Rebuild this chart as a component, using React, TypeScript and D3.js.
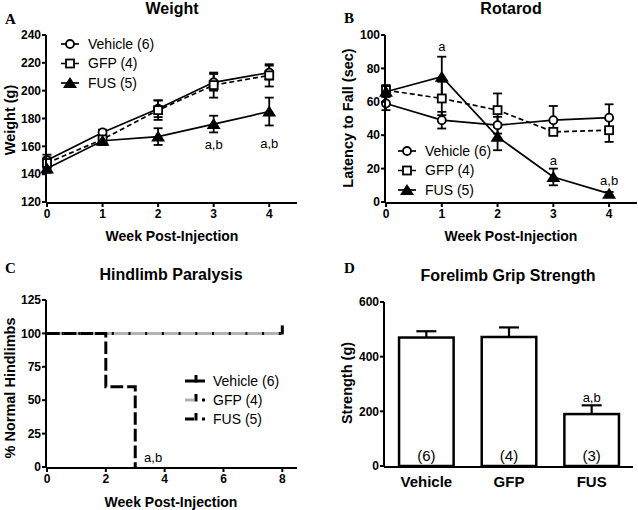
import React, { useEffect } from 'react';
import * as d3 from 'd3';

// ---- data ----
const weeks = [0, 1, 2, 3, 4];
const groups = ['Vehicle (6)', 'GFP (4)', 'FUS (5)'];

const weightMean = [
  [150, 170, 187, 206, 213],
  [148, 165, 186, 204, 211],
  [144, 164, 167, 176, 185],
];
const weightErr = [
  [4, 2, 6, 6, 5],
  [4, 4, 7, 9, 8],
  [3, 3, 6, 6, 10],
];
const weightTicks = [120, 140, 160, 180, 200, 220, 240];

const rotarodMean = [
  [59, 49, 46, 49, 50.5],
  [67, 62, 55, 42, 43],
  [66, 75, 39, 15, 5],
];
const rotarodErr = [
  [4, 5, 5, 8.5, 8],
  [3, 10, 10, 2, 7],
  [3, 12, 8, 5, 1],
];
const rotarodTicks = [0, 20, 40, 60, 80, 100];

const paraWeeks = [
  [0, 8],
  [0, 8],
  [0, 2, 3],
];
const paraValues = [
  [100, 100],
  [100, 100],
  [100, 60, 0],
];
const paraXTicks = [0, 2, 4, 6, 8];
const paraYTicks = [0, 25, 50, 75, 100, 125];

const gripCats = ['Vehicle', 'GFP', 'FUS'];
const gripMean = [470, 472, 190];
const gripErr = [23, 35, 32];
const gripN = ['(6)', '(4)', '(3)'];
const gripTicks = [0, 200, 400, 600];

const weightNotes = [
  { week: 3, value: 161, text: 'a,b' },
  { week: 4, value: 162, text: 'a,b' },
];
const rotarodNotes = [
  { week: 1, value: 93, text: 'a' },
  { week: 3, value: 25, text: 'a' },
  { week: 4, value: 13, text: 'a,b' },
];

const SANS = '"Liberation Sans", Arial, Helvetica, sans-serif';
const SERIF = '"Liberation Serif", "Times New Roman", serif';

function Marker({ kind, x, y }: { kind: number; x: number; y: number }) {
  if (kind === 0) return <circle cx={x} cy={y} r={4} fill="#fff" stroke="#000" strokeWidth={1.8} />;
  if (kind === 1) return <rect x={x - 4} y={y - 4} width={8} height={8} fill="#fff" stroke="#000" strokeWidth={1.8} />;
  return <path d={`M${x},${y - 6}L${x + 7},${y + 5}L${x - 7},${y + 5}Z`} fill="#000" />;
}

function LinePanel(props: {
  left: number; right: number; top: number; bottom: number;
  xDomain: [number, number]; yDomain: [number, number]; yTicks: number[];
  means: number[][]; errs: number[][]; notes: { week: number; value: number; text: string }[];
  legendX: number; legendY: number;
}) {
  const { left, right, top, bottom, means, errs } = props;
  const x = d3.scaleLinear().domain(props.xDomain).range([left, right]);
  const y = d3.scaleLinear().domain(props.yDomain).range([bottom, top]);
  const dashes = [undefined, '5,3', undefined];
  return (
    <g>
      {means.map((m, g) => {
        const line = d3.line<number>().x((_, i) => x(weeks[i])).y(d => y(d));
        return <path key={'l' + g} d={line(m) || ''} fill="none" stroke="#000" strokeWidth={1.7} strokeDasharray={dashes[g]} />;
      })}
      {means.map((m, g) =>
        m.map((v, i) => {
          const cx = x(weeks[i]);
          const y1 = y(v + errs[g][i]);
          const y2 = y(v - errs[g][i]);
          return (
            <g key={'e' + g + i} stroke="#000" strokeWidth={1.8}>
              <line x1={cx} x2={cx} y1={y1} y2={y2} />
              <line x1={cx - 4.5} x2={cx + 4.5} y1={y1} y2={y1} />
              <line x1={cx - 4.5} x2={cx + 4.5} y1={y2} y2={y2} />
            </g>
          );
        })
      )}
      {means.map((m, g) => m.map((v, i) => <Marker key={'m' + g + i} kind={g} x={x(weeks[i])} y={y(v)} />))}
      {props.notes.map((n, i) => (
        <text key={'n' + i} x={x(n.week)} y={y(n.value)} dy="0.35em" textAnchor="middle" fontFamily={SANS} fontSize={13}>{n.text}</text>
      ))}
      {/* axes */}
      <line x1={left - 1} x2={left - 1} y1={top} y2={bottom + 1} stroke="#000" strokeWidth={2} />
      <line x1={left - 1} x2={right} y1={bottom + 1} y2={bottom + 1} stroke="#000" strokeWidth={2} />
      {props.yTicks.map(t => (
        <g key={'yt' + t}>
          <line x1={left - 5} x2={left - 1} y1={y(t)} y2={y(t)} stroke="#000" strokeWidth={2} />
          <text x={left - 6} y={y(t)} dy="0.35em" textAnchor="end" fontFamily={SANS} fontWeight="bold" fontSize={12}>{t}</text>
        </g>
      ))}
      {weeks.map(t => (
        <g key={'xt' + t}>
          <line x1={x(t)} x2={x(t)} y1={bottom + 1} y2={bottom + 5} stroke="#000" strokeWidth={2} />
          <text x={x(t)} y={bottom + 16} textAnchor="middle" fontFamily={SANS} fontWeight="bold" fontSize={12}>{t}</text>
        </g>
      ))}
      {/* legend */}
      {groups.map((name, g) => {
        const ly = props.legendY + g * 19.5;
        return (
          <g key={'lg' + g}>
            <line x1={props.legendX - 9} x2={props.legendX + 9} y1={ly} y2={ly} stroke="#000" strokeWidth={1.7} strokeDasharray={g === 1 ? '4,3' : undefined} />
            <Marker kind={g} x={props.legendX} y={ly} />
            <text x={props.legendX + 18} y={ly} dy="0.35em" fontFamily={SANS} fontSize={14}>{name}</text>
          </g>
        );
      })}
    </g>
  );
}

function ParalysisPanel() {
  const left = 47, right = 297, top = 300, bottom = 467;
  const x = d3.scaleLinear().domain([0, 8.5]).range([left, right]);
  const y = d3.scaleLinear().domain([0, 125]).range([bottom, top]);
  const colors = ['#000', '#b3b3b3', '#000'];
  const dash = [undefined, '14.7,2', '12.7,4'];
  const legendX = 195, legendY = 381;
  return (
    <g>
      {paraValues.map((vals, g) => {
        const pts = vals.map((v, i) => [x(paraWeeks[g][i]), y(v)] as [number, number]);
        const line = d3.line().curve(d3.curveStepAfter);
        return <path key={'p' + g} d={line(pts) || ''} fill="none" stroke={colors[g]} strokeWidth={3} strokeDasharray={dash[g]} />;
      })}
      <line x1={x(8)} x2={x(8)} y1={y(100) + 1} y2={y(100) - 8} stroke="#000" strokeWidth={3} />
      <text x={x(3.3)} y={y(7.5)} dy="0.35em" fontFamily={SANS} fontSize={13}>a,b</text>
      <line x1={left - 1} x2={left - 1} y1={top} y2={bottom + 1} stroke="#000" strokeWidth={2} />
      <line x1={left - 1} x2={right} y1={bottom + 1} y2={bottom + 1} stroke="#000" strokeWidth={2} />
      {paraYTicks.map(t => (
        <g key={'yt' + t}>
          <line x1={left - 5} x2={left - 1} y1={y(t)} y2={y(t)} stroke="#000" strokeWidth={2} />
          <text x={left - 6} y={y(t)} dy="0.35em" textAnchor="end" fontFamily={SANS} fontWeight="bold" fontSize={12}>{t}</text>
        </g>
      ))}
      {paraXTicks.map(t => (
        <g key={'xt' + t}>
          <line x1={x(t)} x2={x(t)} y1={bottom + 1} y2={bottom + 5} stroke="#000" strokeWidth={2} />
          <text x={x(t)} y={bottom + 16} textAnchor="middle" fontFamily={SANS} fontWeight="bold" fontSize={12}>{t}</text>
        </g>
      ))}
      {groups.map((name, g) => {
        const ly = legendY + g * 19;
        return (
          <g key={'lg' + g}>
            {g === 0 ? (
              <line x1={legendX - 10} x2={legendX + 10} y1={ly} y2={ly} stroke="#000" strokeWidth={3} />
            ) : (
              <g>
                <line x1={legendX - 10} x2={legendX - 1} y1={ly} y2={ly} stroke={colors[g]} strokeWidth={3} />
                <rect x={legendX + 7} y={ly - 1.5} width={3} height={3} fill="#000" />
              </g>
            )}
            <line x1={legendX + 1} x2={legendX + 1} y1={ly + 1.5} y2={ly - 6} stroke="#000" strokeWidth={3} />
            <text x={legendX + 18} y={ly} dy="0.35em" fontFamily={SANS} fontSize={14}>{name}</text>
          </g>
        );
      })}
    </g>
  );
}

function GripPanel() {
  const left = 385, right = 633, top = 302, bottom = 466;
  const x = d3.scaleBand().domain(gripCats).range([left, right]).paddingInner(0.34).paddingOuter(0.17);
  const y = d3.scaleLinear().domain([0, 600]).range([bottom, top]);
  return (
    <g>
      {gripCats.map((c, i) => {
        const bx = x(c)!;
        const cx = bx + x.bandwidth() / 2;
        const top1 = y(gripMean[i] + gripErr[i]);
        return (
          <g key={c}>
            <line x1={cx} x2={cx} y1={y(gripMean[i])} y2={top1} stroke="#000" strokeWidth={2.2} />
            <line x1={cx - 10} x2={cx + 10} y1={top1} y2={top1} stroke="#000" strokeWidth={2.2} />
            <rect x={bx} y={y(gripMean[i])} width={x.bandwidth()} height={bottom - y(gripMean[i])} fill="#fff" stroke="#000" strokeWidth={2.5} />
            <text x={cx} y={y(0) - 10} dy="0.35em" textAnchor="middle" fontFamily={SANS} fontSize={15}>{gripN[i]}</text>
            <text x={cx} y={bottom + 21} textAnchor="middle" fontFamily={SANS} fontWeight="bold" fontSize={15}>{c}</text>
          </g>
        );
      })}
      <text x={x('FUS')! + x.bandwidth() / 2} y={y(252)} dy="0.35em" textAnchor="middle" fontFamily={SANS} fontSize={13}>a,b</text>
      <line x1={left - 1} x2={left - 1} y1={top} y2={bottom + 1} stroke="#000" strokeWidth={2} />
      <line x1={left - 1} x2={right} y1={bottom + 1} y2={bottom + 1} stroke="#000" strokeWidth={2} />
      {gripTicks.map(t => (
        <g key={'yt' + t}>
          <line x1={left - 5} x2={left - 1} y1={y(t)} y2={y(t)} stroke="#000" strokeWidth={2} />
          <text x={left - 6} y={y(t)} dy="0.35em" textAnchor="end" fontFamily={SANS} fontWeight="bold" fontSize={12}>{t}</text>
        </g>
      ))}
    </g>
  );
}

function Labels() {
  const title = (x: number, y: number, t: string) => (
    <text x={x} y={y} textAnchor="middle" fontFamily={SANS} fontWeight="bold" fontSize={16}>{t}</text>
  );
  const xlab = (x: number, y: number, t: string) => (
    <text x={x} y={y} textAnchor="middle" fontFamily={SANS} fontWeight="bold" fontSize={14}>{t}</text>
  );
  const ylab = (x: number, y: number, t: string) => (
    <text transform={`translate(${x},${y}) rotate(-90)`} textAnchor="middle" fontFamily={SANS} fontWeight="bold" fontSize={14.5}>{t}</text>
  );
  const letter = (x: number, y: number, t: string) => (
    <text x={x} y={y} fontFamily={SERIF} fontWeight="bold" fontSize={15}>{t}</text>
  );
  return (
    <g>
      {title(172, 14, 'Weight')}
      {title(511, 14, 'Rotarod')}
      {title(171, 280, 'Hindlimb Paralysis')}
      {title(508, 281, 'Forelimb Grip Strength')}
      {letter(5, 24, 'A')}
      {letter(344, 23, 'B')}
      {letter(5, 273, 'C')}
      {letter(344, 273, 'D')}
      {xlab(172, 241, 'Week Post-Injection')}
      {xlab(511, 241, 'Week Post-Injection')}
      {xlab(171, 507, 'Week Post-Injection')}
      {ylab(15, 120, 'Weight (g)')}
      {ylab(353, 118, 'Latency to Fall (sec)')}
      {ylab(15, 388, '% Normal Hindlimbs')}
      {ylab(352, 383, 'Strength (g)')}
    </g>
  );
}

export default function App() {
  useEffect(() => {
    document.body.style.margin = '0';
  }, []);
  return (
    <svg width={638} height={510} style={{ position: 'absolute', left: 0, top: 0, background: '#fff' }}>
      <rect width={638} height={510} fill="#fff" />
      <LinePanel left={47} right={297} top={35} bottom={202} xDomain={[0, 4.5]} yDomain={[120, 240]} yTicks={weightTicks}
        means={weightMean} errs={weightErr} notes={weightNotes} legendX={70} legendY={44} />
      <LinePanel left={386} right={637} top={35} bottom={202} xDomain={[0, 4.5]} yDomain={[0, 100]} yTicks={rotarodTicks}
        means={rotarodMean} errs={rotarodErr} notes={rotarodNotes} legendX={407} legendY={151} />
      <ParalysisPanel />
      <GripPanel />
      <Labels />
    </svg>
  );
}
